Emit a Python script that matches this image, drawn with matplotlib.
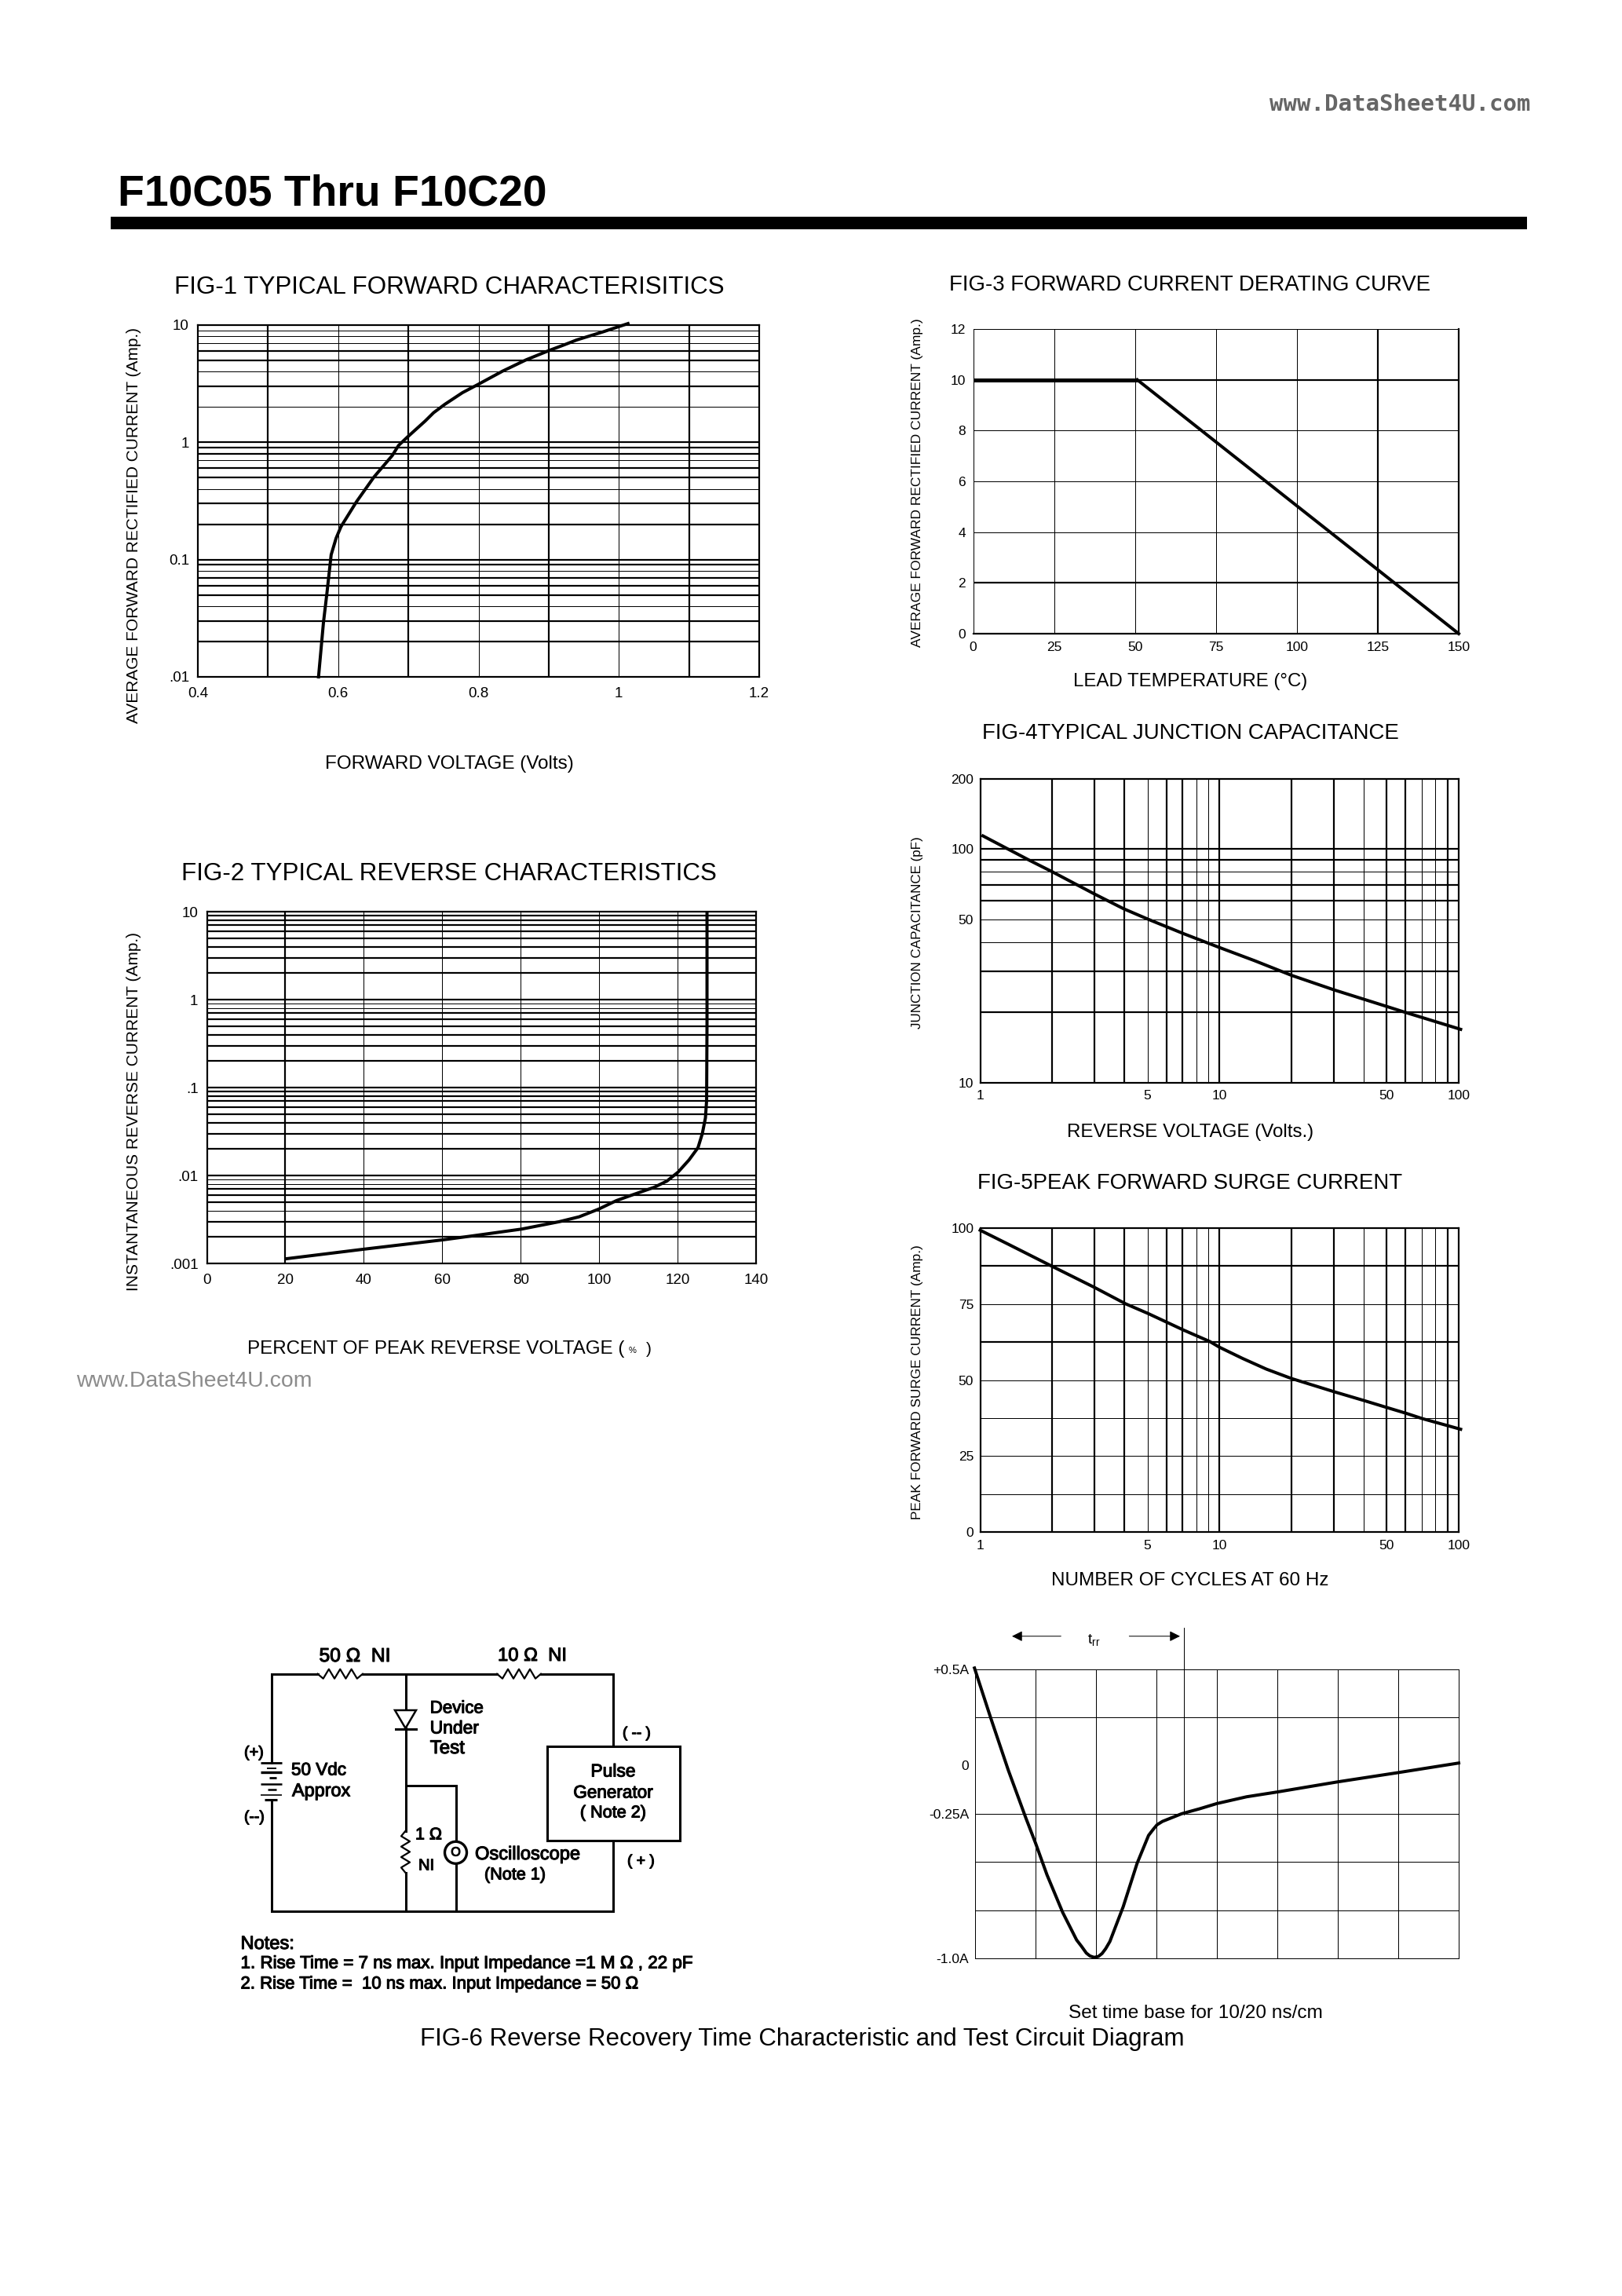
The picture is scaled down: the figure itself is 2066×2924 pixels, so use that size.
import matplotlib
matplotlib.use('Agg')
import matplotlib.pyplot as plt
import matplotlib.patheffects as pe
from matplotlib.patches import Rectangle, Circle, Polygon

plt.rcParams['font.family'] = ['Liberation Sans', 'DejaVu Sans']

W = 2066
H = 2924
THIN = 1 * 0.72
THICK = 2.2 * 0.72
CURVE = 4 * 0.72

# FIG-1 forward characteristics
fig1_volts = [0.572, 0.579, 0.584, 0.590, 0.597, 0.604, 0.626, 0.651, 0.677, 0.686, 0.698, 0.724, 0.736, 0.752, 0.777,
              0.799, 0.834, 0.868, 0.903, 0.922, 0.940, 0.978, 1.013]
fig1_amps = [0.01, 0.029, 0.052, 0.110, 0.152, 0.191, 0.311, 0.506, 0.771, 0.94, 1.10, 1.52, 1.79, 2.11, 2.65,
             3.11, 4.04, 5.06, 6.15, 6.78, 7.47, 8.78, 10.3]
fig1_xticks = [0.4, 0.6, 0.8, 1.0, 1.2]
fig1_xlabels = ['0.4', '0.6', '0.8', '1', '1.2']
fig1_yticks = [10, 1, 0.1, 0.01]
fig1_ylabels = ['10', '1', '0.1', '.01']
fig1_vgrid = [0.5, 0.6, 0.7, 0.8, 0.9, 1.0, 1.1]
fig1_vgrid_thick = [0.5, 0.7, 0.9, 1.1]
fig1_hgrid = [9, 8, 7, 6, 5, 4, 3, 2, 1, .9, .8, .7, .6, .5, .4, .3, .2, .1, .09, .08, .07, .06, .05, .04, .03, .02]
fig1_hgrid_thick = [6, 5, 3, 1, .9, .8, .6, .5, .3, .2, .1, .09, .07, .06, .05, .03, .02]

# FIG-2 reverse characteristics
fig2_percent = [20.2, 39.9, 60, 68.5, 80.3, 89.8, 94.9, 99.9, 104.4, 108.9, 114, 117.3, 120.1, 122.9, 125.2,
                126.3, 127.1, 127.4, 127.5, 127.5]
fig2_amps = [.00113, .00145, .00185, .00208, .00246, .00298, .00339, .00415, .00518, .00611, .00733, .00865,
             .0109, .0150, .0207, .0299, .0452, .0714, .54, 9.5]
fig2_xticks = [0, 20, 40, 60, 80, 100, 120, 140]
fig2_yticks = [10, 1, .1, .01, .001]
fig2_ylabels = ['10', '1', '.1', '.01', '.001']
fig2_vgrid = [20, 40, 60, 80, 100, 120]
fig2_vgrid_thick = [20]
fig2_hgrid = [9, 8, 7, 6, 5, 4, 3, 2, 1, .9, .8, .7, .6, .5, .4, .3, .2, .1, .09, .08, .07, .06, .05, .04, .03, .02,
              .01, .009, .008, .007, .006, .005, .004, .003, .002]
fig2_hgrid_thin = [.9, .8, .009, .008, .004]

# FIG-3 derating
fig3_flat_temp = [0, 50.7]
fig3_flat_amps = [10, 10]
fig3_temp = [50.7, 150]
fig3_amps = [10, 0]
fig3_xticks = [0, 25, 50, 75, 100, 125, 150]
fig3_yticks = [0, 2, 4, 6, 8, 10, 12]
fig3_vgrid_thick = [125]
fig3_hgrid_thick = [10, 2]

# FIG-4 capacitance
fig4_volts = [1.027, 1.31, 1.61, 2.02, 3.0, 3.97, 5.03, 7.1, 10, 14, 20, 30.3, 49.9, 60.6, 101.9]
fig4_pf = [114, 100, 89.5, 79.6, 64.3, 55.6, 50.1, 43.4, 37.9, 33.3, 28.8, 24.9, 21.2, 19.9, 16.9]
fig4_yticks = [200, 100, 50, 10]
fig4_hgrid = [100, 90, 80, 70, 60, 50, 40, 30, 20]
fig4_hgrid_thick = [100, 90, 70, 60, 30, 20]

# shared by FIG-4 and FIG-5
log_xticks = [1, 5, 10, 50, 100]
log_vgrid = [2, 3, 4, 5, 6, 7, 8, 9, 10, 20, 30, 40, 50, 60, 70, 80, 90]
log_vgrid_thick = [2, 3, 4, 6, 7, 10, 20, 30, 50, 60, 90]

# FIG-5 surge current
fig5_cycles = [1, 1.31, 2, 3, 4.05, 5.03, 7.1, 9.1, 10, 12.5, 15.7, 20, 30.3, 40, 49.9, 60.6, 70.5, 101.9]
fig5_amps = [99.3, 94.7, 87.4, 80.5, 75.1, 71.9, 66.4, 62.7, 60.8, 57.1, 53.6, 50.5, 46.1, 43.3, 41, 39, 37.3, 33.8]
fig5_yticks = [0, 25, 50, 75, 100]
fig5_hgrid = [12.5, 25, 37.5, 50, 62.5, 75, 87.5]
fig5_hgrid_thick = [62.5, 87.5]

# FIG-6 recovery trace, in graticule divisions
fig6_time = [-.01, .26, .55, .84, 1.0, 1.19, 1.45, 1.68, 1.76, 1.84, 1.90, 1.97, 2.04, 2.10, 2.16, 2.23, 2.45, 2.68,
             2.87, 2.95, 3.01, 3.1, 3.2, 3.42, 3.71, 4.0, 4.49, 5.0, 6.0, 6.99, 8]
fig6_level = [6.02, 4.98, 3.90, 2.91, 2.39, 1.73, .95, .38, .25, .11, .05, .02, .04, .10, .2, .35, 1.07, 1.97,
              2.55, 2.68, 2.77, 2.84, 2.89, 3.0, 3.10, 3.21, 3.35, 3.45, 3.66, 3.85, 4.05]
fig6_yticks = [6, 4, 3, 0]
fig6_ylabels = ['+0.5A', '0', '-0.25A', '-1.0A']
fig6_vgrid = [1, 2, 3, 4, 5, 6, 7]
fig6_hgrid = [5, 3, 2, 1]


fig = plt.figure(figsize=(W / 100, H / 100), dpi=100, facecolor='white')
page = fig.add_axes([0, 0, 1, 1])
page.set_xlim(0, W)
page.set_ylim(H, 0)
page.axis('off')
renderer = fig.canvas.get_renderer()


def put(s, x, y, width, ha='center', rotation=0, **kw):
    # scale the font so the string covers the width it has in the scan
    if rotation:
        x += 3
    else:
        y += 3
    t = page.text(x, y, s, ha=ha, va='center', rotation=rotation, fontsize=20, **kw)
    box = t.get_window_extent(renderer)
    t.set_fontsize(20 * width / max(box.width, box.height))
    return t


def chart(left, top, right, bottom, xlim, ylim, xlog=False, ylog=False):
    ax = fig.add_axes([left / W, 1 - bottom / H, (right - left) / W, (bottom - top) / H])
    if xlog:
        ax.set_xscale('log')
    if ylog:
        ax.set_yscale('log')
    ax.set_xlim(xlim)
    ax.set_ylim(ylim)
    ax.minorticks_off()
    for s in ax.spines.values():
        s.set_linewidth(THICK)
    return ax


def grid(ax, vlines, hlines, vthick=(), hthick=()):
    for v in vlines:
        ax.axvline(v, color='k', lw=THICK if v in vthick else THIN, zorder=1)
    for h in hlines:
        ax.axhline(h, color='k', lw=THICK if h in hthick else THIN, zorder=1)


def ticks(ax, xt, xl, yt, yl, xpad, ypad, size=13.5):
    ax.set_xticks(xt, xl)
    ax.set_yticks(yt, yl)
    ax.minorticks_off()
    ax.tick_params(axis='x', length=0, pad=xpad, labelsize=size)
    ax.tick_params(axis='y', length=0, pad=ypad, labelsize=size)


# header
put('F10C05 Thru F10C20', 150, 245, 547, ha='left', fontweight='bold')
page.add_patch(Rectangle((141, 276), 1804, 16, color='k', lw=0))
put('www.DataSheet4U.com', 1617, 130, 333, ha='left', family='DejaVu Sans Mono', fontweight='bold', color='#666666')
put('www.DataSheet4U.com', 97, 1756, 298, ha='left', color='#8c8c8c')

# FIG-1
ax1 = chart(252, 414, 967, 862, (0.4, 1.2), (0.01, 10), ylog=True)
grid(ax1, fig1_vgrid, fig1_hgrid, fig1_vgrid_thick, fig1_hgrid_thick)
ax1.plot(fig1_volts, fig1_amps, color='k', lw=CURVE, clip_on=False, zorder=3)
ticks(ax1, fig1_xticks, fig1_xlabels, fig1_yticks, fig1_ylabels, 9.5, 8)
put('FIG-1 TYPICAL FORWARD CHARACTERISITICS', 572, 363, 699)
put('FORWARD VOLTAGE (Volts)', 572, 970, 317)
put('AVERAGE FORWARD RECTIFIED CURRENT (Amp.)', 168, 669, 503, rotation=90)

# FIG-2
ax2 = chart(263.5, 1161, 963, 1609, (0, 140), (0.001, 10), ylog=True)
grid(ax2, fig2_vgrid, fig2_hgrid, fig2_vgrid_thick, [h for h in fig2_hgrid if h not in fig2_hgrid_thin])
ax2.plot(fig2_percent, fig2_amps, color='k', lw=CURVE, zorder=3)
ticks(ax2, fig2_xticks, [str(v) for v in fig2_xticks], fig2_yticks, fig2_ylabels, 9.5, 8)
put('FIG-2 TYPICAL REVERSE CHARACTERISTICS', 572, 1110, 679)
put('PERCENT OF PEAK REVERSE VOLTAGE (', 315, 1715, 480, ha='left')
page.text(801, 1720, '%', fontsize=8, va='center', ha='left')
page.text(823, 1718, ')', fontsize=15, va='center', ha='left')
put('INSTANTANEOUS REVERSE CURRENT (Amp.)', 168, 1416, 454, rotation=90)

# FIG-3
ax3 = chart(1239.5, 419, 1858, 807, (0, 150), (0, 12))
grid(ax3, fig3_xticks[1:-1], fig3_yticks[1:-1], fig3_vgrid_thick, fig3_hgrid_thick)
ax3.spines['top'].set_linewidth(THIN)
ax3.spines['left'].set_linewidth(THIN)
ax3.plot(fig3_flat_temp, fig3_flat_amps, color='k', lw=5 * 0.72, solid_capstyle='butt', zorder=3)
ax3.plot(fig3_temp, fig3_amps, color='k', lw=CURVE, zorder=3, clip_on=False)
ticks(ax3, fig3_xticks, [str(v) for v in fig3_xticks], fig3_yticks, [str(v) for v in fig3_yticks], 7, 7, size=12.5)
put('FIG-3 FORWARD CURRENT DERATING CURVE', 1516, 360, 613)
put('LEAD TEMPERATURE (°C)', 1516, 865, 298)
put('AVERAGE FORWARD RECTIFIED CURRENT (Amp.)', 1166, 615, 419, rotation=90)

# FIG-4
ax4 = chart(1248.5, 992, 1858, 1378.6, (1, 100), (10, 200), xlog=True, ylog=True)
grid(ax4, log_vgrid, fig4_hgrid, log_vgrid_thick, fig4_hgrid_thick)
ax4.plot(fig4_volts, fig4_pf, color='k', lw=CURVE, clip_on=False, zorder=3)
ticks(ax4, log_xticks, [str(v) for v in log_xticks], fig4_yticks, [str(v) for v in fig4_yticks], 7, 6, size=12.5)
put('FIG-4TYPICAL JUNCTION CAPACITANCE', 1516, 931, 532)
put('REVERSE VOLTAGE (Volts.)', 1516, 1439, 315)
put('JUNCTION CAPACITANCE (pF)', 1166, 1188, 245, rotation=90)

# FIG-5
ax5 = chart(1248.5, 1564, 1858, 1951, (1, 100), (0, 100), xlog=True)
grid(ax5, log_vgrid, fig5_hgrid, log_vgrid_thick, fig5_hgrid_thick)
ax5.plot(fig5_cycles, fig5_amps, color='k', lw=CURVE, clip_on=False, zorder=3)
ticks(ax5, log_xticks, [str(v) for v in log_xticks], fig5_yticks, [str(v) for v in fig5_yticks], 7, 6, size=12.5)
put('FIG-5PEAK FORWARD SURGE CURRENT', 1516, 1504, 542)
put('NUMBER OF CYCLES AT 60 Hz', 1516, 2010, 354)
put('PEAK FORWARD SURGE CURRENT (Amp.)', 1166, 1760, 349, rotation=90)

# FIG-6 trace
ax6 = chart(1242, 2125.5, 1858, 2494, (0, 8), (0, 6))
for s in ax6.spines.values():
    s.set_linewidth(THIN)
grid(ax6, fig6_vgrid, fig6_hgrid)
ax6.plot(fig6_time, fig6_level, color='k', lw=CURVE, clip_on=False, zorder=3)
ax6.plot([3.45, 3.45], [2.98, 6.86], color='k', lw=THIN, clip_on=False, zorder=2)
ticks(ax6, [], [], fig6_yticks, fig6_ylabels, 5, 5.5, size=12.5)
arrow = dict(arrowstyle='-|>', color='k', lw=THIN, mutation_scale=20, shrinkA=0, shrinkB=0)
ax6.annotate('', xy=(0.61, 6.68), xytext=(1.42, 6.68), arrowprops=arrow, annotation_clip=False)
ax6.annotate('', xy=(3.39, 6.68), xytext=(2.55, 6.68), arrowprops=arrow, annotation_clip=False)
ax6.text(1.97, 6.6, r'$\mathregular{t_{rr}}$', ha='center', va='center', fontsize=14, clip_on=False)
put('Set time base for 10/20 ns/cm', 1522.6, 2561, 324)
put('FIG-6 Reverse Recovery Time Characteristic and Test Circuit Diagram', 535, 2594, 970, ha='left')


# test circuit
def wire(xs, ys, lw=3 * 0.72):
    page.plot(xs, ys, color='k', lw=lw, solid_capstyle='projecting', solid_joinstyle='miter')


def zigzag_h(x0, x1, y, amp=6):
    n = 8
    xs = [x0 + (x1 - x0) * i / n for i in range(n + 1)]
    ys = [y + (0 if i in (0, n) else (amp if i % 2 else -amp)) for i in range(n + 1)]
    page.plot(xs, ys, color='k', lw=1.6)


def zigzag_v(x, y0, y1, amp=5.5):
    n = 8
    ys = [y0 + (y1 - y0) * i / n for i in range(n + 1)]
    xs = [x + (0 if i in (0, n) else (-amp if i % 2 else amp)) for i in range(n + 1)]
    page.plot(xs, ys, color='k', lw=1.6)


top_y, low_y = 2131.7, 2434
left_x, mid_x, scope_x, right_x = 345.5, 516.5, 580.5, 781
wire([left_x, left_x], [2245, top_y])
wire([left_x, 404.5], [top_y, top_y])
zigzag_h(404.5, 462, top_y)
wire([462, 633], [top_y, top_y])
zigzag_h(633, 689, top_y)
wire([689, right_x, right_x], [top_y, top_y, 2224])
wire([right_x, right_x], [2344, low_y])
wire([left_x, right_x], [low_y, low_y])
wire([left_x, left_x], [2292, low_y])
wire([mid_x, mid_x], [top_y, 2331.7])
zigzag_v(mid_x, 2331.7, 2385)
wire([mid_x, mid_x], [2385, low_y])
wire([mid_x, scope_x, scope_x], [2274, 2274, 2346])
wire([scope_x, scope_x], [2372, low_y])
page.add_patch(Polygon([(503, 2178), (530, 2178), (mid_x, 2201)], closed=True, fc='white', ec='k', lw=1.8, zorder=3))
wire([503.5, 530], [2202, 2202])
page.add_patch(Circle((scope_x, 2359.3), 14, fc='white', ec='k', lw=2.4, zorder=3))
page.add_patch(Rectangle((697, 2224), 169, 120, fc='white', ec='k', lw=2.2, zorder=3))
for y, x0, x1, lw in [(2245, 332, 359, 2), (2252, 340, 352, 1.4), (2257, 332, 359, 2.4), (2264, 343, 352, 2),
                      (2272, 332, 359, 1.8), (2279, 341, 352, 1.8), (2286, 332, 359, 1.2), (2292, 337, 353, 2.2)]:
    page.plot([x0, x1], [y, y], color='k', lw=lw, solid_capstyle='butt')

# the scan thickens this lettering, a thin stroke on the regular weight gets closest
scan_ink = [pe.withStroke(linewidth=0.8, foreground='k')]
for s, x, y, w in [('50 \u03a9  NI', 406.5, 2106, 91), ('10 \u03a9  NI', 634, 2106, 88),
                   ('Device', 547.7, 2173, 68), ('Under', 547.7, 2198, 62), ('Test', 547.7, 2224, 44),
                   ('(+)', 311, 2229, 25), ('(--)', 311, 2312, 26),
                   ('50 Vdc', 371, 2252, 70), ('Approx', 372, 2278, 74),
                   ('( -- )', 793, 2205, 36), ('( + )', 799, 2368, 35),
                   ('1 \u03a9', 529, 2334, 34), ('NI', 533, 2373, 20),
                   ('Oscilloscope', 605, 2359, 134), ('(Note 1)', 617, 2385, 78),
                   ('Notes:', 306.5, 2473, 68),
                   ('1. Rise Time = 7 ns max. Input Impedance =1 M \u03a9 , 22 pF', 306.5, 2498, 575),
                   ('2. Rise Time =  10 ns max. Input Impedance = 50 \u03a9', 306.5, 2524, 506)]:
    put(s, x, y, w, ha='left', zorder=4, path_effects=scan_ink)
put('Pulse', 781, 2253, 57, zorder=4, path_effects=scan_ink)
put('Generator', 781, 2280, 101, zorder=4, path_effects=scan_ink)
put('( Note 2)', 781, 2306, 84, zorder=4, path_effects=scan_ink)
put('O', scope_x, 2356, 15, zorder=4, path_effects=scan_ink)

page.set_xlim(0, W)
page.set_ylim(H, 0)
fig.savefig('out.png', dpi=100)
